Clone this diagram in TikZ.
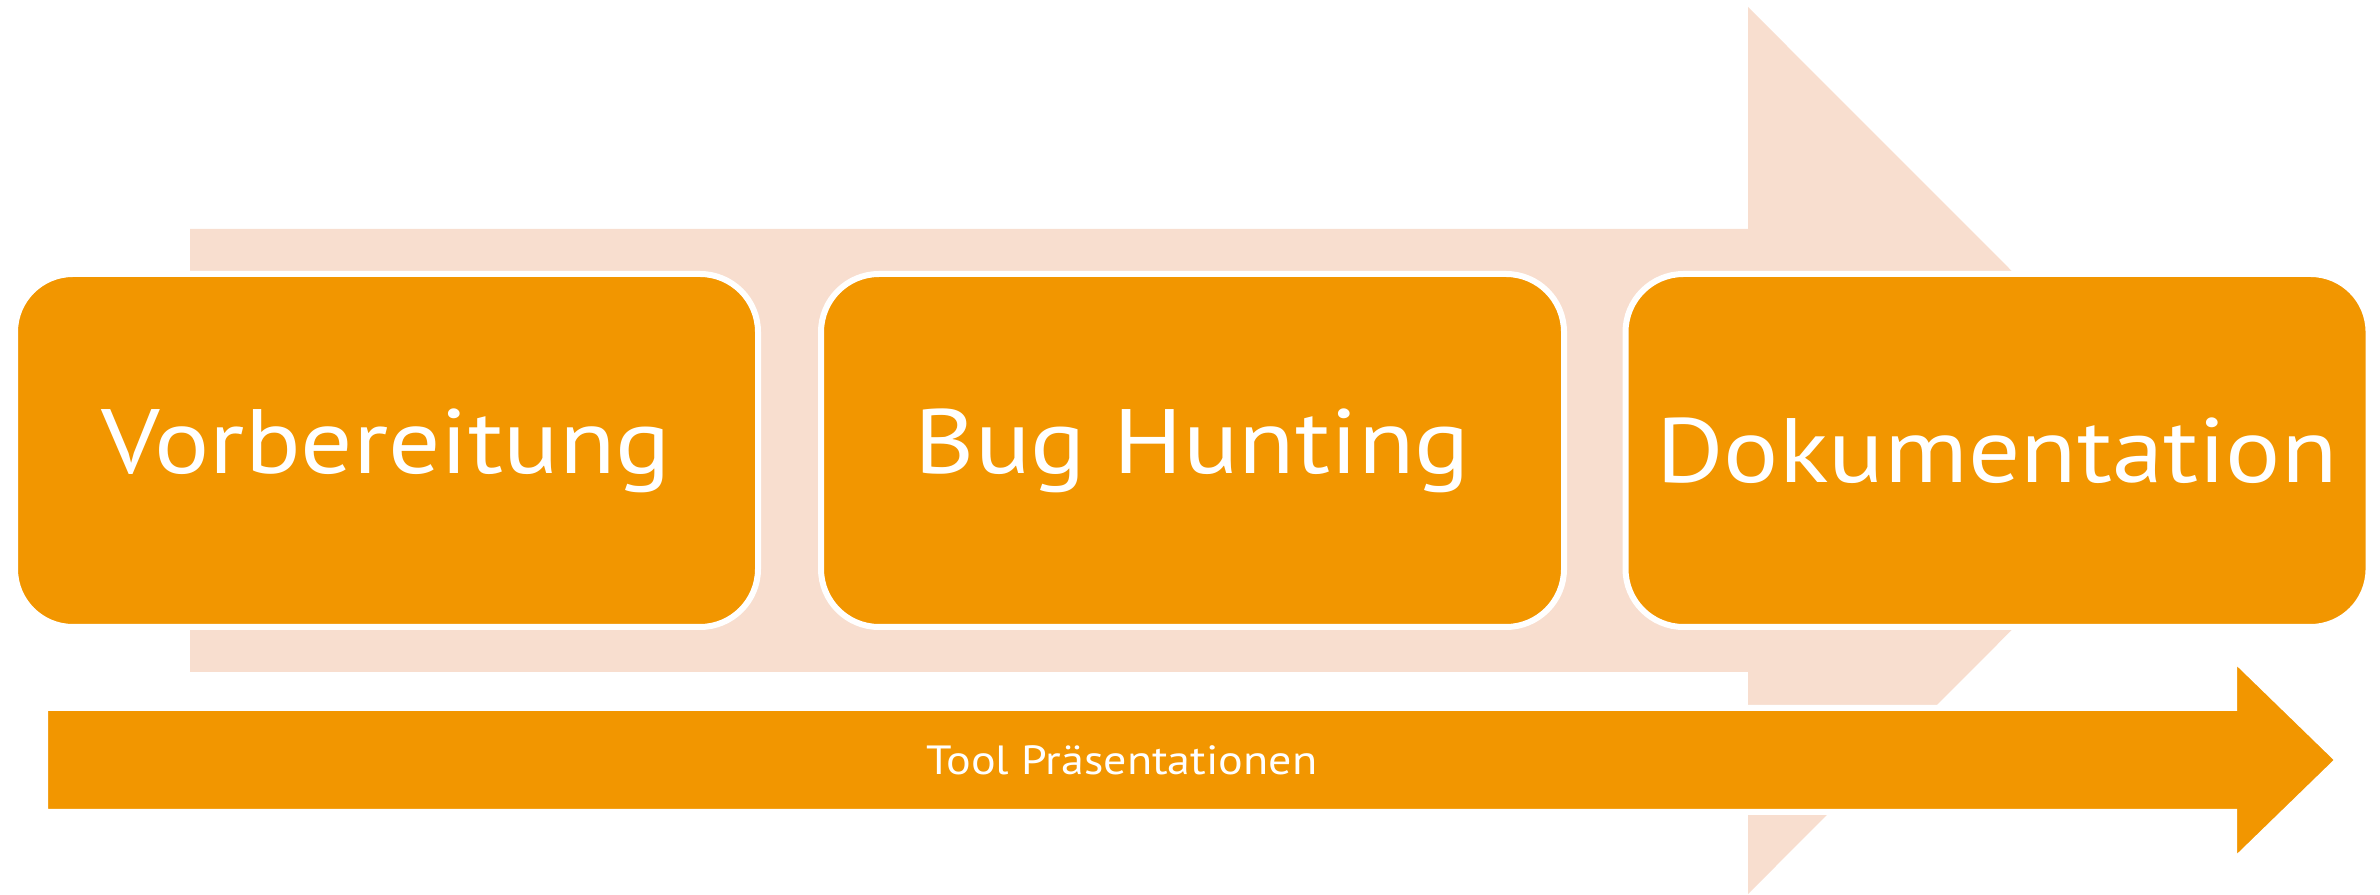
\documentclass[tikz,border=0pt]{standalone}
\usepackage{fontspec}
\setmainfont{PT Sans}[FakeStretch=1.13]
\definecolor{phaseorange}{HTML}{F29600}
\definecolor{phasepale}{HTML}{F8DECF}
\tikzset{
  phase/.style={draw=white, line width=0.6mm, fill=phaseorange, rounded corners=5.8mm,
    minimum width=74.3mm, minimum height=35.3mm, text=white,
    font=\fontsize{26}{30}\selectfont},
  tooltext/.style={text=white, font=\fontsize{11.6}{13}\selectfont}
}
\begin{document}
\begin{tikzpicture}[x=0.1mm, y=-0.1mm]
\useasboundingbox (0,0) rectangle (2380,895);
% Background: big pale arrow
\fill[phasepale] (190,229) -- (1748,229) -- (1748,7) -- (2191,450.5) -- (1748,894) -- (1748,672) -- (190,672) -- cycle;

% Phases
\node[phase] (vorb) at (386.5,450.5) {Vorbereitung};
\node[phase] (bug) at (1192.5,450.5) {Bug Hunting};
\node[phase] (doku) at (1997,450.5) {Dokumentation};

% Bottom: tool arrow
\draw[draw=white, line width=0.6mm, fill=phaseorange] (45,708) -- (2234,708) -- (2234,659) -- (2338,760) -- (2234,861) -- (2234,812) -- (45,812) -- cycle;
\node[tooltext] (tool) at (1122,760) {Tool Präsentationen};
\end{tikzpicture}
\end{document}
